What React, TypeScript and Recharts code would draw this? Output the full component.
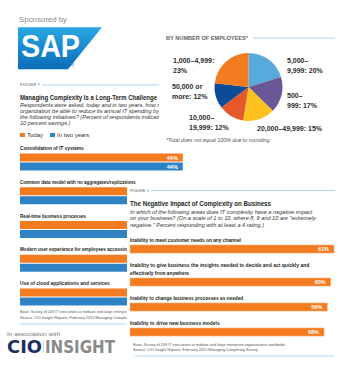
import React from 'react';
import { BarChart, Bar, XAxis, YAxis, LabelList, Legend, PieChart, Pie, Cell } from 'recharts';

const FONT = "'Liberation Sans', Arial, Helvetica, sans-serif";
const ORANGE = '#f47b20';
const BLUE = '#2f83c5';
const INK = '#231f20';

// Figure 7: Managing Complexity Is a Long-Term Challenge
const initiativeCategories = [
  'Consolidation of IT systems',
  'Common data model with no aggregates/replications',
  'Real-time business processes',
  'Modern user experience for employees accessing data',
  'Use of cloud applications and services',
];
const seriesNames = ['Today', 'In two years'];
const todayValues = [44, 41, 39, 37, 36];
const inTwoYearsValues = [44, 43, 42, 41, 40];

// By number of employees (pie)
const employeeBands = ['5,000–9,999', '500–999', '20,000–49,999', '10,000–19,999', '50,000 or more', '1,000–4,999'];
const employeeShares = [20, 17, 15, 12, 12, 23];
const employeeColors = ['#58a9dc', '#6a5896', '#fdc21f', '#e5582b', '#0c4c96', '#f47c20'];

// Figure 1: The Negative Impact of Complexity on Business
const impactCategories = [
  'Inability to meet customer needs on any channel',
  'Inability to give business the insights needed to decide and act quickly and effectively from anywhere',
  'Inability to change business processes as needed',
  'Inability to drive new business models',
];
const impactValues = [61, 60, 59, 58];

const initiativeData = initiativeCategories.map((name, i) => ({ name, today: todayValues[i], twoYears: inTwoYearsValues[i] }));
const employeeData = employeeBands.map((name, i) => ({ name, value: employeeShares[i] }));
const impactData = impactCategories.map((name, i) => ({ name, value: impactValues[i] }));

// layout for pie labels: offset from pie centre, and where the label breaks into 2 lines
const pieLabelLayout = [
  { dx: 38.5, dy: -24, brk: 6 },
  { dx: 38.5, dy: 11, brk: 4 },
  { dx: 8.5, dy: 44, brk: 0 },
  { dx: -59.5, dy: 33, brk: 7 },
  { dx: -76.5, dy: 2, brk: 10 },
  { dx: -75.5, dy: -24, brk: 13 },
];

function wrapLabel(s: string, max: number): string[] {
  const words = s.split(' ');
  const lines: string[] = [];
  let cur = '';
  for (const w of words) {
    const next = cur ? cur + ' ' + w : w;
    if (next.length > max && cur) {
      lines.push(cur);
      cur = w;
    } else cur = next;
  }
  if (cur) lines.push(cur);
  return lines;
}

const CHAR_W = 2.36;

const LeftCategoryLabel = (props: any) => {
  const { x, y, value } = props;
  const s = String(value);
  return (
    <text x={x} y={y - 3.5} fontFamily={FONT} fontWeight={700} fontSize={5.6} fill={INK}
      textLength={s.length * CHAR_W} lengthAdjust="spacingAndGlyphs">{s}</text>
  );
};

const ImpactLabel = (props: any) => {
  const { x, y, value } = props;
  const lines = wrapLabel(String(value), 80);
  return (
    <g>
      {lines.map((ln, k) => (
        <text key={k} x={x} y={y - 3.5 - (lines.length - 1 - k) * 8} fontFamily={FONT} fontWeight={700}
          fontSize={5.6} fill={INK} textLength={ln.length * CHAR_W} lengthAdjust="spacingAndGlyphs">{ln}</text>
      ))}
    </g>
  );
};

const renderPieLabel = (props: any) => {
  const { cx, cy, index } = props;
  const d = employeeData[index];
  const full = `${d.name}: ${d.value}%`;
  const lay = pieLabelLayout[index];
  const lines = lay.brk > 0 ? [full.slice(0, lay.brk).trim(), full.slice(lay.brk).trim()] : [full];
  return (
    <text x={cx + lay.dx} y={cy + lay.dy} fontFamily={FONT} fontWeight={700} fontSize={7} fill="#2b2b2b" textAnchor="start">
      {lines.map((ln, k) => (
        <tspan key={k} x={cx + lay.dx} dy={k === 0 ? 0 : 9.5}>{ln}</tspan>
      ))}
    </text>
  );
};

const LegendContent = (props: any) => {
  const items = [...(props.payload || [])].sort(
    (a: any, b: any) => seriesNames.indexOf(a.value) - seriesNames.indexOf(b.value)
  );
  return (
    <div style={{ display: 'flex', alignItems: 'center', fontFamily: FONT, fontSize: 6, color: '#333', lineHeight: '8px' }}>
      {items.map((p: any, i: number) => (
        <span key={i} style={{ display: 'flex', alignItems: 'center', marginRight: 7 }}>
          <span style={{ display: 'inline-block', width: 4.5, height: 4.5, background: p.color, marginRight: 2.5 }} />
          {p.value}
        </span>
      ))}
    </div>
  );
};

const rowTops = (() => {
  const tops: number[] = [];
  let t = 245;
  impactCategories.forEach((c) => {
    const n = wrapLabel(c, 80).length;
    t += (n - 1) * 8;
    tops.push(t);
    t += 25;
  });
  return tops;
})();

const leftSubtitle = [
  'Respondents were asked, today and in two years, how much would your',
  'organization be able to reduce its annual IT spending by adopting each of',
  'the following initiatives? (Percent of respondents indicating at least',
  '10 percent savings.)',
];
const rightSubtitle = [
  'In which of the following areas does IT complexity have a negative impact',
  'on your business? (On a scale of 1 to 10, where 8, 9 and 10 are "extremely',
  'negative." Percent responding with at least a 4 rating.)',
];
const baseNote = 'Base: Survey of 209 IT executives at midsize and large enterprise organizations worldwide';
const sourceNote = 'Source: CIO Insight Reports, February 2015 Managing Complexity Survey';

export default function App() {
  return (
    <div style={{ position: 'absolute', left: 0, top: 0, width: 350, height: 375, overflow: 'hidden', background: '#fff', fontFamily: FONT }}>
      {/* bottom layer: left column decorations */}
      <svg width={350} height={375} style={{ position: 'absolute', left: 0, top: 0 }}>
        <defs>
          <linearGradient id="sapg" x1="0" y1="0" x2="0" y2="1">
            <stop offset="0" stopColor="#2aa8e4" />
            <stop offset="1" stopColor="#0a6cb8" />
          </linearGradient>
          <clipPath id="leftTop">
            <rect x={0} y={80} width={159} height={60} />
          </clipPath>
        </defs>
        <text x={19} y={22} fontSize={8} fill="#8b8b8b" textLength={48} lengthAdjust="spacingAndGlyphs">Sponsored by</text>
        <polygon points="18,27.3 102,27.3 68,69.3 18,69.3" fill="url(#sapg)" />
        <text x={21} y={57} fontSize={31} fontWeight={700} fill="#fff" textLength={59} lengthAdjust="spacingAndGlyphs">SAP</text>
        <text x={70} y={66.5} fontSize={6} fill="#1a7cc8">®</text>

        <text x={20} y={86} fontSize={3.8} fill="#666" textLength={20} lengthAdjust="spacingAndGlyphs">FIGURE 7</text>
        <line x1={42} x2={159} y1={85} y2={85} stroke="#9fd0f0" strokeWidth={0.9} />
        <g clipPath="url(#leftTop)">
          <text x={20} y={100} fontSize={7.6} fontWeight={700} fill={INK} textLength={137} lengthAdjust="spacingAndGlyphs">Managing Complexity Is a Long-Term Challenge</text>
          {leftSubtitle.map((s, i) => (
            <text key={i} x={20} y={107 + i * 6} fontSize={5.6} fontStyle="italic" fill="#333">{s}</text>
          ))}
        </g>

        <text x={20} y={313} fontSize={3.8} fill="#555">{baseNote}</text>
        <text x={20} y={318.5} fontSize={3.8} fill="#555">{sourceNote}</text>
        <line x1={20} x2={130} y1={324} y2={324} stroke="#bcdcf2" strokeWidth={1.2} />

        <text x={7} y={336} fontSize={5.8} fill="#777" textLength={53} lengthAdjust="spacingAndGlyphs">In association with</text>
        <text x={7} y={353.3} fontSize={17.5} fontWeight={900} fill="#1b2f5e" fontFamily="'DejaVu Sans', sans-serif" textLength={35} lengthAdjust="spacingAndGlyphs">CIO</text>
        <line x1={43.5} x2={43.5} y1={341.5} y2={353.3} stroke="#999" strokeWidth={0.8} strokeDasharray="1 1" />
        <text x={45} y={353.3} fontSize={17.5} fontWeight={900} fill="#8a8a8a" fontFamily="'DejaVu Sans', sans-serif" textLength={70} lengthAdjust="spacingAndGlyphs">INSIGHT</text>
      </svg>

      {/* left chart */}
      <div style={{ position: 'absolute', left: 0, top: 0 }}>
        <BarChart width={350} height={330} data={initiativeData} layout="vertical" barSize={8} barGap={1}
          margin={{ top: 145.6, right: 145, bottom: 15.65, left: 20 }}>
          <XAxis type="number" domain={[0, 50]} hide />
          <YAxis type="category" dataKey="name" hide />
          <Legend verticalAlign="middle" align="center" layout="horizontal" content={LegendContent}
            wrapperStyle={{ top: 131, left: 20, width: 150, height: 8 }} />
          <Bar dataKey="today" name={seriesNames[0]} fill={ORANGE} isAnimationActive={false}>
            <LabelList dataKey="name" content={LeftCategoryLabel} />
            <LabelList dataKey="today" position="insideRight" offset={5} fill="#fff" fontSize={5.5} fontWeight={700}
              fontFamily={FONT} formatter={(v: any) => `${v}%`} />
          </Bar>
          <Bar dataKey="twoYears" name={seriesNames[1]} fill={BLUE} isAnimationActive={false}>
            <LabelList dataKey="twoYears" position="insideRight" offset={5} fill="#fff" fontSize={5.5} fontWeight={700}
              fontFamily={FONT} formatter={(v: any) => `${v}%`} />
          </Bar>
        </BarChart>
      </div>

      {/* pie panel */}
      <div style={{ position: 'absolute', left: 159, top: 30, width: 191, height: 118, background: '#fff' }}>
        <PieChart width={191} height={118}>
          <Pie data={employeeData} dataKey="value" nameKey="name" cx={84.5} cy={52} outerRadius={34}
            startAngle={90} endAngle={-270} stroke="none" isAnimationActive={false}
            label={renderPieLabel} labelLine={false}>
            {employeeData.map((d, i) => <Cell key={d.name} fill={employeeColors[i]} />)}
          </Pie>
        </PieChart>
      </div>

      {/* right panel */}
      <div style={{ position: 'absolute', left: 127, top: 185.5, width: 223, height: 176, background: '#fff' }} />
      {impactData.map((d, i) => (
        <div key={d.name} style={{ position: 'absolute', left: 0, top: rowTops[i] - 24 }}>
          <BarChart width={350} height={33} data={[d]} layout="vertical" margin={{ top: 24, right: 2.6, bottom: 0, left: 130 }}>
            <XAxis type="number" domain={[0, 65]} hide />
            <YAxis type="category" dataKey="name" hide />
            <Bar dataKey="value" fill={ORANGE} stroke="#f9b07a" strokeWidth={0.6} barSize={9} isAnimationActive={false}>
              <LabelList dataKey="name" content={ImpactLabel} />
              <LabelList dataKey="value" position="insideRight" offset={5} fill="#fff" stroke="none" fontSize={5.5} fontWeight={700}
                fontFamily={FONT} formatter={(v: any) => `${v}%`} />
            </Bar>
          </BarChart>
        </div>
      ))}

      {/* top layer texts */}
      <svg width={350} height={375} style={{ position: 'absolute', left: 0, top: 0, pointerEvents: 'none' }}>
        <text x={166} y={39.5} fontSize={5} fontWeight={700} fill="#666" textLength={82} lengthAdjust="spacingAndGlyphs">BY NUMBER OF EMPLOYEES*</text>
        <line x1={253} x2={335} y1={38} y2={38} stroke="#9fd0f0" strokeWidth={0.9} />
        <text x={166} y={142} fontSize={5.2} fontStyle="italic" fill="#555" textLength={105} lengthAdjust="spacingAndGlyphs">*Total does not equal 100% due to rounding.</text>

        <text x={130} y={192} fontSize={3.8} fill="#666" textLength={19} lengthAdjust="spacingAndGlyphs">FIGURE 1</text>
        <line x1={151} x2={335} y1={190.5} y2={190.5} stroke="#9fd0f0" strokeWidth={0.9} />
        <text x={130} y={206} fontSize={8} fontWeight={700} fill={INK} textLength={141} lengthAdjust="spacingAndGlyphs">The Negative Impact of Complexity on Business</text>
        {rightSubtitle.map((s, i) => (
          <text key={i} x={130} y={213.5 + i * 6.5} fontSize={5.6} fontStyle="italic" fill="#333">{s}</text>
        ))}
        <text x={133} y={345.5} fontSize={3.8} fill="#555">{baseNote}</text>
        <text x={133} y={350.5} fontSize={3.8} fill="#555">{sourceNote}</text>
        <line x1={135} x2={334} y1={356} y2={356} stroke="#bcdcf2" strokeWidth={1.2} />
      </svg>
    </div>
  );
}
